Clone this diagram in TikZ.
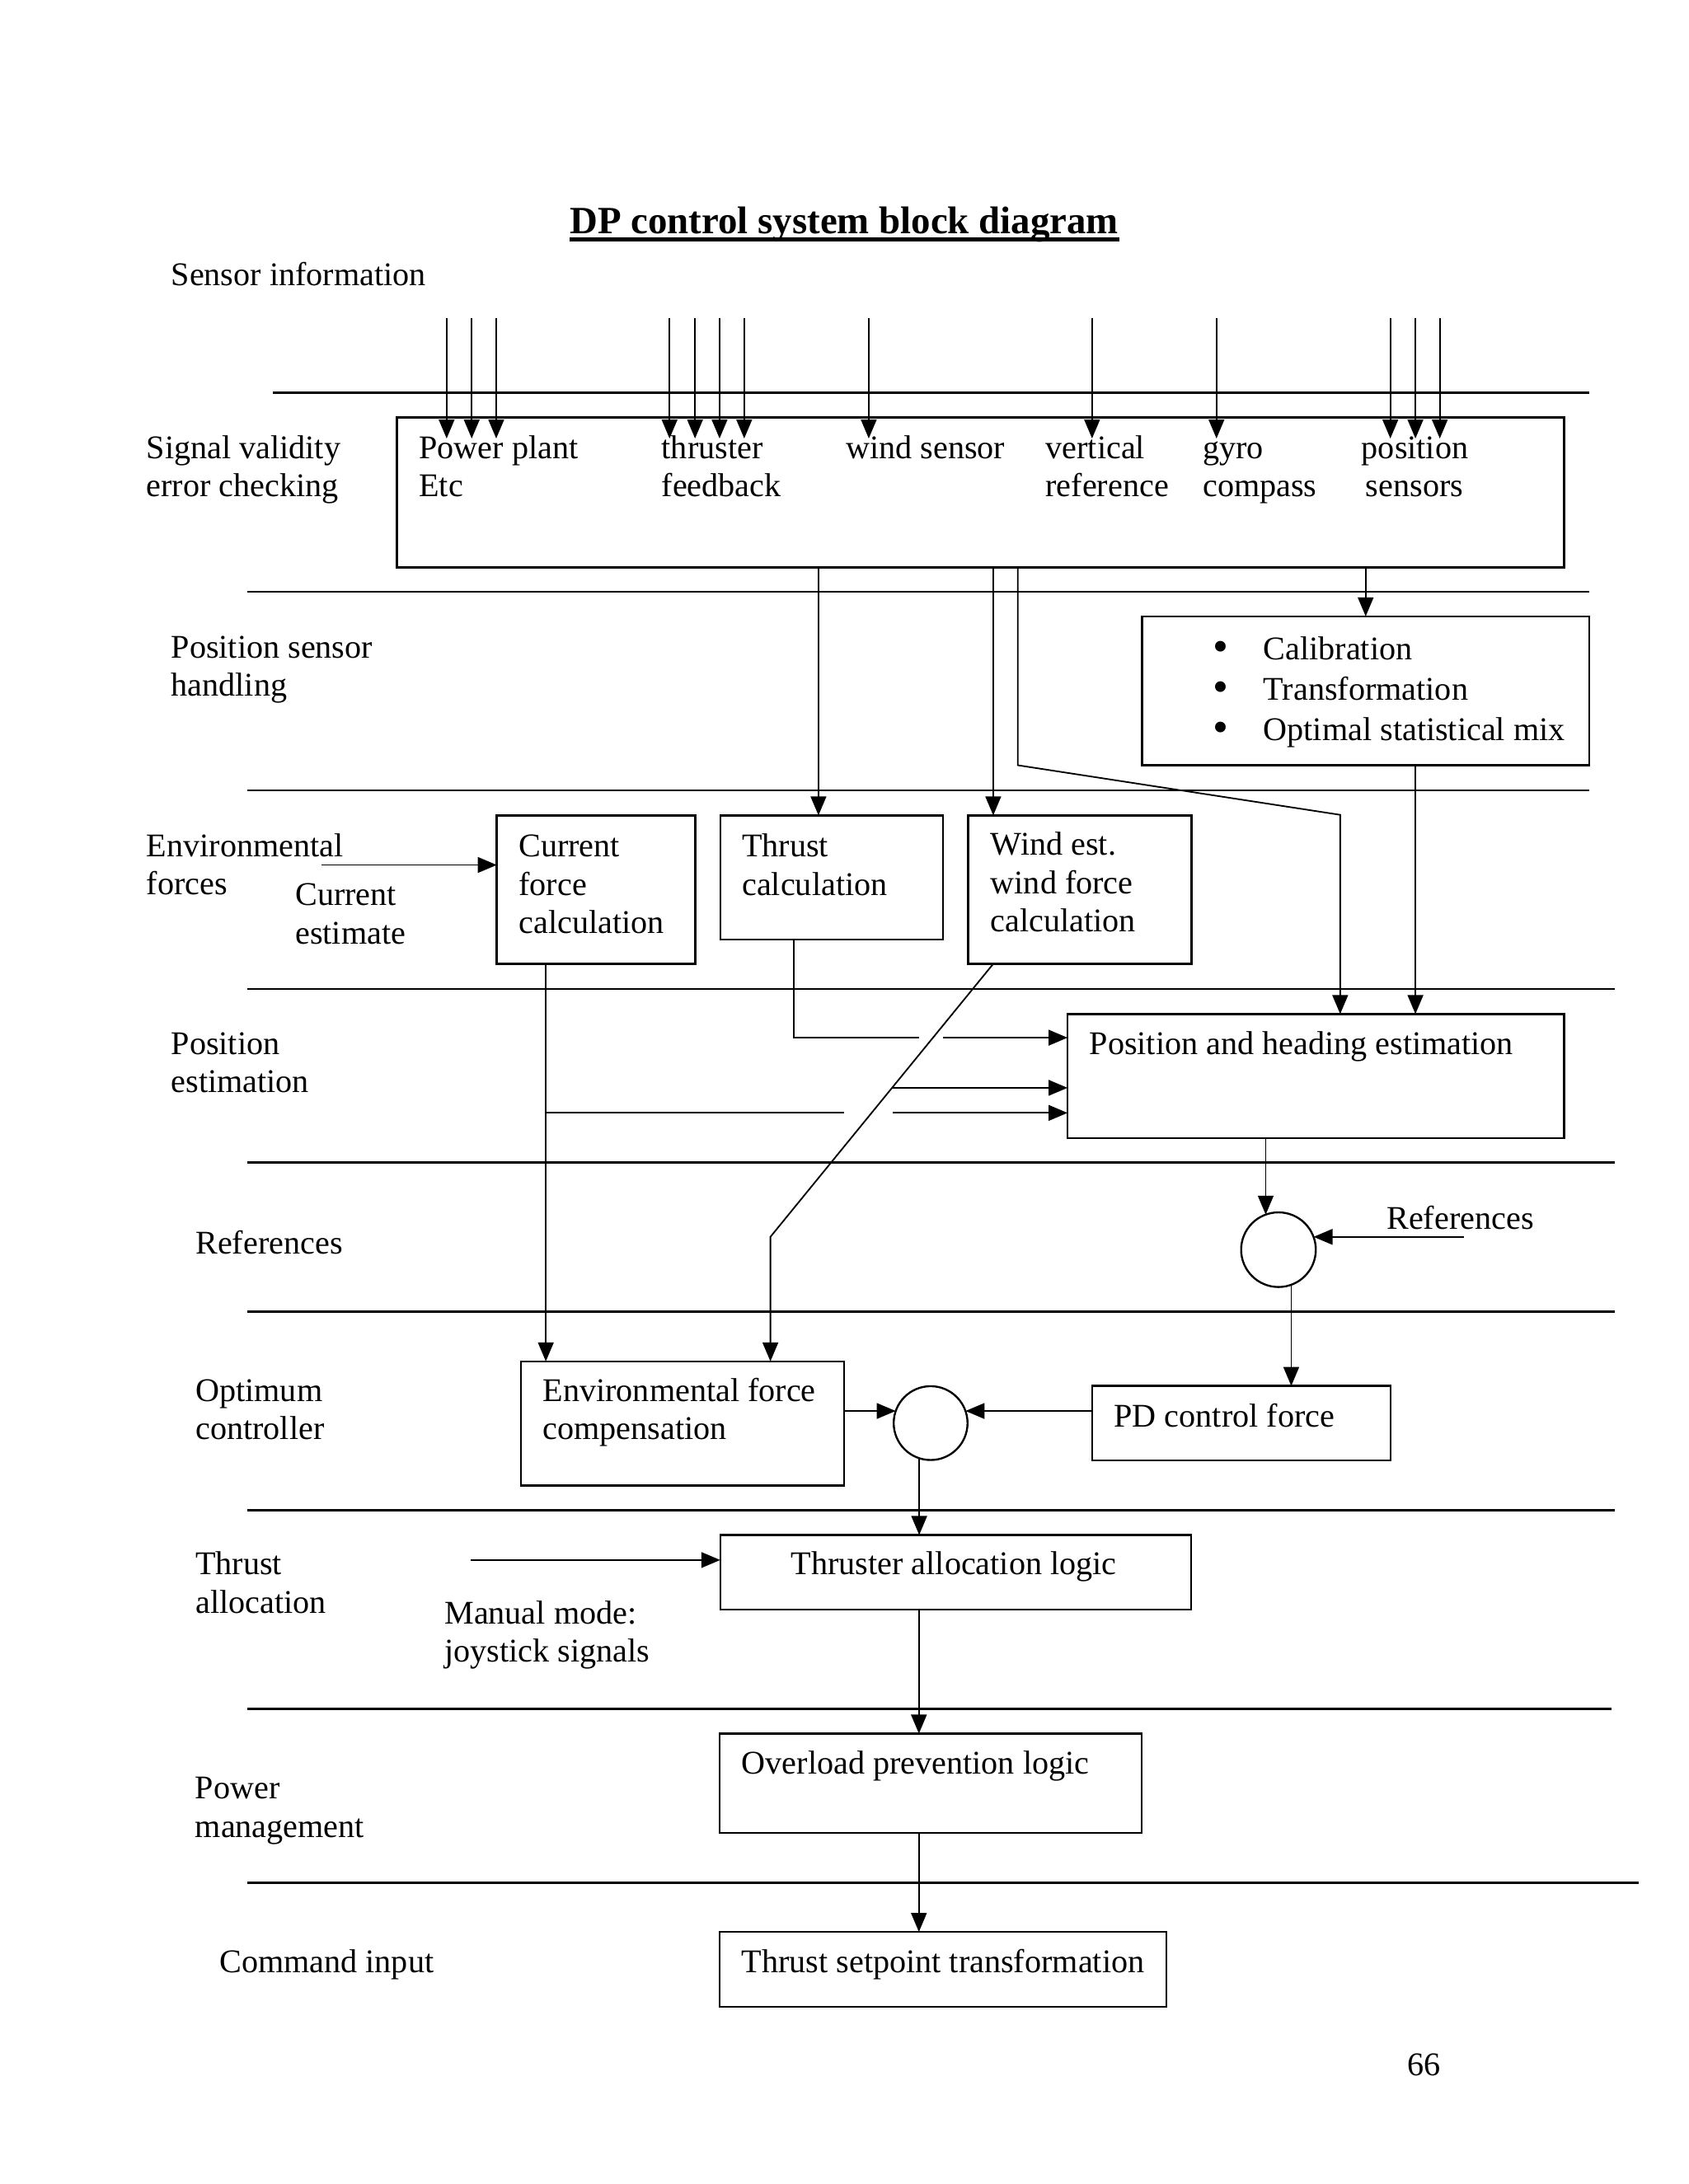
\documentclass[tikz,border=0pt]{standalone}
\usepackage{fontspec}
\setmainfont{Liberation Serif}
\usetikzlibrary{arrows.meta}
\usetikzlibrary{positioning}
\usetikzlibrary{calc}

\newcommand{\stk}[1]{\begin{tabular}[t]{@{}l@{}}#1\end{tabular}}

\begin{document}
\begin{tikzpicture}[x=0.5pt,y=-0.5pt,
  txt/.style={anchor=base west,inner sep=0pt,font=\fontsize{11.88}{13.8}\selectfont},
  blk/.style={draw,rectangle,inner sep=0pt,outer sep=0pt,line width=0.7pt},
  sumnode/.style={draw,circle,inner sep=0pt,outer sep=0pt,line width=0.7pt,minimum size=#1},
  lane/.style={line width=0.75pt},
  wire/.style={line width=0.55pt},
  arr/.style={wire,-{Triangle[length=6.8pt,width=5.6pt]}}]
  \useasboundingbox (0,0) rectangle (1212,1568);
  % title
  \node[txt,anchor=base,font=\fontsize{13.86}{16}\selectfont\bfseries] (title) at (606,167.6) {DP control system block diagram};
  \draw[line width=1.3pt] ([yshift=-2.15pt]title.base west) -- ([yshift=-2.15pt]title.base east);
  % the layers
  \foreach \yy/\xa/\xb in {282/196/1140.5,424.8/177.5/1140.8,567.4/177.5/1140.8,710/177.5/1159,834.7/177.5/1159,941.6/177.5/1159,1084.3/177.5/1159,1226.8/177.5/1157,1351.6/177.5/1176.5}
    \draw[lane] (\xa,\yy) -- (\xb,\yy);
  % layer names
  \node[txt] (sensinfo) at (122.5,205) {Sensor information};
  \node[txt] (laysig) at (104.8,329) {\stk{Signal validity\\error checking}};
  \node[txt] (laypsh) at (122.5,472.3) {\stk{Position sensor\\handling}};
  \node[txt] (layenv) at (104.8,614.9) {\stk{Environmental\\forces}};
  \node[txt] (laypos) at (122.5,756.8) {\stk{Position\\estimation}};
  \node[txt] (layref) at (140,900.4) {References};
  \node[txt] (layopt) at (140,1006) {\stk{Optimum\\controller}};
  \node[txt] (laythr) at (140,1130.7) {\stk{Thrust\\allocation}};
  \node[txt] (laypwr) at (139.7,1291.3) {\stk{Power\\management}};
  \node[txt] (laycmd) at (157.2,1416.5) {Command input};
  \node[txt] (pageno) at (1010,1490) {66};
  % the blocks
  \node[blk,minimum width=418.9pt,minimum height=53.75pt] (sig) at (703.9,353.55) {};
  \node[blk,minimum width=160.5pt,minimum height=53.45pt] (cal) at (980.3,495.95) {};
  \node[blk,minimum width=71.2pt,minimum height=53.3pt] (cur) at (427.8,638.7) {};
  \node[blk,minimum width=80pt,minimum height=44.5pt] (thr) at (597,629.9) {};
  \node[blk,minimum width=80.15pt,minimum height=53.3pt] (wnd) at (775.15,638.7) {};
  \node[blk,minimum width=178.25pt,minimum height=44.5pt] (pos) at (944.55,772.5) {};
  \node[sumnode=26.8pt] (sum1) at (917.7,897.2) {};
  \node[blk,minimum width=116.05pt,minimum height=44.6pt] (env) at (489.95,1022) {};
  \node[sumnode=26.5pt] (sum2) at (668,1021.7) {};
  \node[blk,minimum width=107pt,minimum height=26.75pt] (pd) at (891,1021.75) {};
  \node[blk,minimum width=169pt,minimum height=26.8pt] (alloc) at (686,1128.8) {};
  \node[blk,minimum width=151.5pt,minimum height=35.6pt] (ovl) at (668.1,1280.2) {};
  \node[blk,minimum width=160.35pt,minimum height=26.9pt] (tsp) at (676.95,1413.9) {};
  % block texts
  \node[txt] (pp) at (300.4,329) {\stk{Power plant\\Etc}};
  \node[txt] (thf) at (474.6,329) {\stk{thruster\\feedback}};
  \node[txt] (wse) at (606.8,329) {wind sensor};
  \node[txt] (vre) at (750.2,329) {\stk{vertical\\reference}};
  \node[txt] (gyr) at (863,329) {\stk{gyro\\compass}};
  \node[txt] (pse) at (977,329) {\stk{position\\\hspace{1.5pt}sensors}};
  \foreach \t [count=\i] in {Calibration,Transformation,Optimal statistical mix}{
    \node[txt,anchor=base,font=\fontsize{16}{16}\selectfont] (calb\i) at (876,{474.6+29.05*(\i-1)}) {•};
    \node[txt] (calt\i) at (906.5,{473.6+29.05*(\i-1)}) {\t};
  }
  \node[txt] (curtxt) at (372,615) {\stk{Current\\force\\calculation}};
  \node[txt] (thrtxt) at (532.3,615) {\stk{Thrust\\calculation}};
  \node[txt] (wndtxt) at (710.7,614) {\stk{Wind est.\\wind force\\calculation}};
  \node[txt] (curest) at (211.6,650) {\stk{Current\\estimate}};
  \node[txt] (postxt) at (781.7,757) {Position and heading estimation};
  \node[txt] (reftxt) at (995,882.4) {References};
  \node[txt] (envtxt) at (389.3,1006) {\stk{Environmental force\\compensation}};
  \node[txt] (pdtxt) at (799.3,1024.3) {PD control force};
  \node[txt] (alloctxt) at (567.5,1130.7) {Thruster allocation logic};
  \node[txt] (mantxt) at (318.7,1165.7) {\stk{Manual mode:\\joystick signals}};
  \node[txt] (ovltxt) at (532,1273.7) {Overload prevention logic};
  \node[txt] (tsptxt) at (532,1416.5) {Thrust setpoint transformation};
  % sensor inputs
  \foreach \x [count=\i] in {320.6,338.6,356.2,480.6,498.9,516.5,534.2,623.6,783.9,873.2,998,1016,1033.5}{
    \coordinate (sens\i) at (\x,228.2);
    \draw[arr] (sens\i) -- ($(sens\i |- sig.north)+(0,15)$);
  }
  % from the validity check
  \coordinate (thrin) at ([xshift=-4.75pt]thr.north);
  \draw[arr] (sig.south -| thrin) -- (thrin);
  \coordinate (wndin) at ([xshift=-31.1pt]wnd.north);
  \draw[arr] (sig.south -| wndin) -- (wndin);
  \coordinate (bend1) at (730.6,549.4);
  \coordinate (bend2) at (962,585);
  \draw[arr] (sig.south -| bend1) -- (bend1) -- (bend2) -- (bend2 |- pos.north);
  \draw[arr] (sig.south -| cal.north) -- (cal.north);
  \coordinate (calout) at ([xshift=17.85pt]cal.south);
  \draw[arr] (calout) -- (calout |- pos.north);
  % environmental forces
  \coordinate (cestart) at (231,621);
  \draw[arr] (cestart) -- (cestart -| cur.west);
  \coordinate (throut) at ([xshift=-13.5pt]thr.south);
  \coordinate (posin2) at ([yshift=13.75pt]pos.west);
  \draw[wire] (throut) |- ([xshift=-53.15pt]posin2);
  \draw[arr] ([xshift=-44.65pt]posin2) -- (posin2);
  \coordinate (curout) at ([xshift=-18pt]cur.south);
  \coordinate (posin4) at ([yshift=-13.25pt]pos.west);
  \draw[arr] (curout) -- (curout |- env.north);
  \draw[wire] (curout |- posin4) -- ([xshift=-80.15pt]posin4);
  \draw[arr] ([xshift=-62.65pt]posin4) -- (posin4);
  \coordinate (wndout) at ([xshift=-31.1pt]wnd.south);
  \coordinate (bend3) at (553,888);
  \draw[arr] (wndout) -- (bend3) -- (bend3 |- env.north);
  \coordinate (windtap) at ($(wndout)!0.454!(bend3)$);
  \coordinate (posin3) at ([yshift=-4.25pt]pos.west);
  \draw[arr] (posin3 -| windtap) -- (posin3);
  % references and controller
  \draw[arr] (pos.south -| sum1.110) -- (sum1.110);
  \coordinate (refstart) at (1051,888);
  \draw[arr] (refstart) -- (refstart -| sum1.20);
  \draw[arr] (sum1.-70) -- (sum1.-70 |- pd.north);
  \coordinate (envout) at ([yshift=4.5pt]env.east);
  \draw[arr] (envout) -- (envout -| sum2.161);
  \coordinate (pdout) at ([yshift=4.375pt]pd.west);
  \draw[arr] (pdout) -- (pdout -| sum2.19);
  \draw[arr] (sum2.-108) -- (sum2.-108 |- alloc.north);
  % thrust allocation and below
  \coordinate (manstart) at (338,1120);
  \draw[arr] (manstart) -- (manstart -| alloc.west);
  \coordinate (allocout) at ([xshift=-13.2pt]alloc.south);
  \draw[arr] (allocout) -- (allocout |- ovl.north);
  \draw[arr] (ovl.south -| allocout) -- (tsp.north -| allocout);
\end{tikzpicture}
\end{document}
